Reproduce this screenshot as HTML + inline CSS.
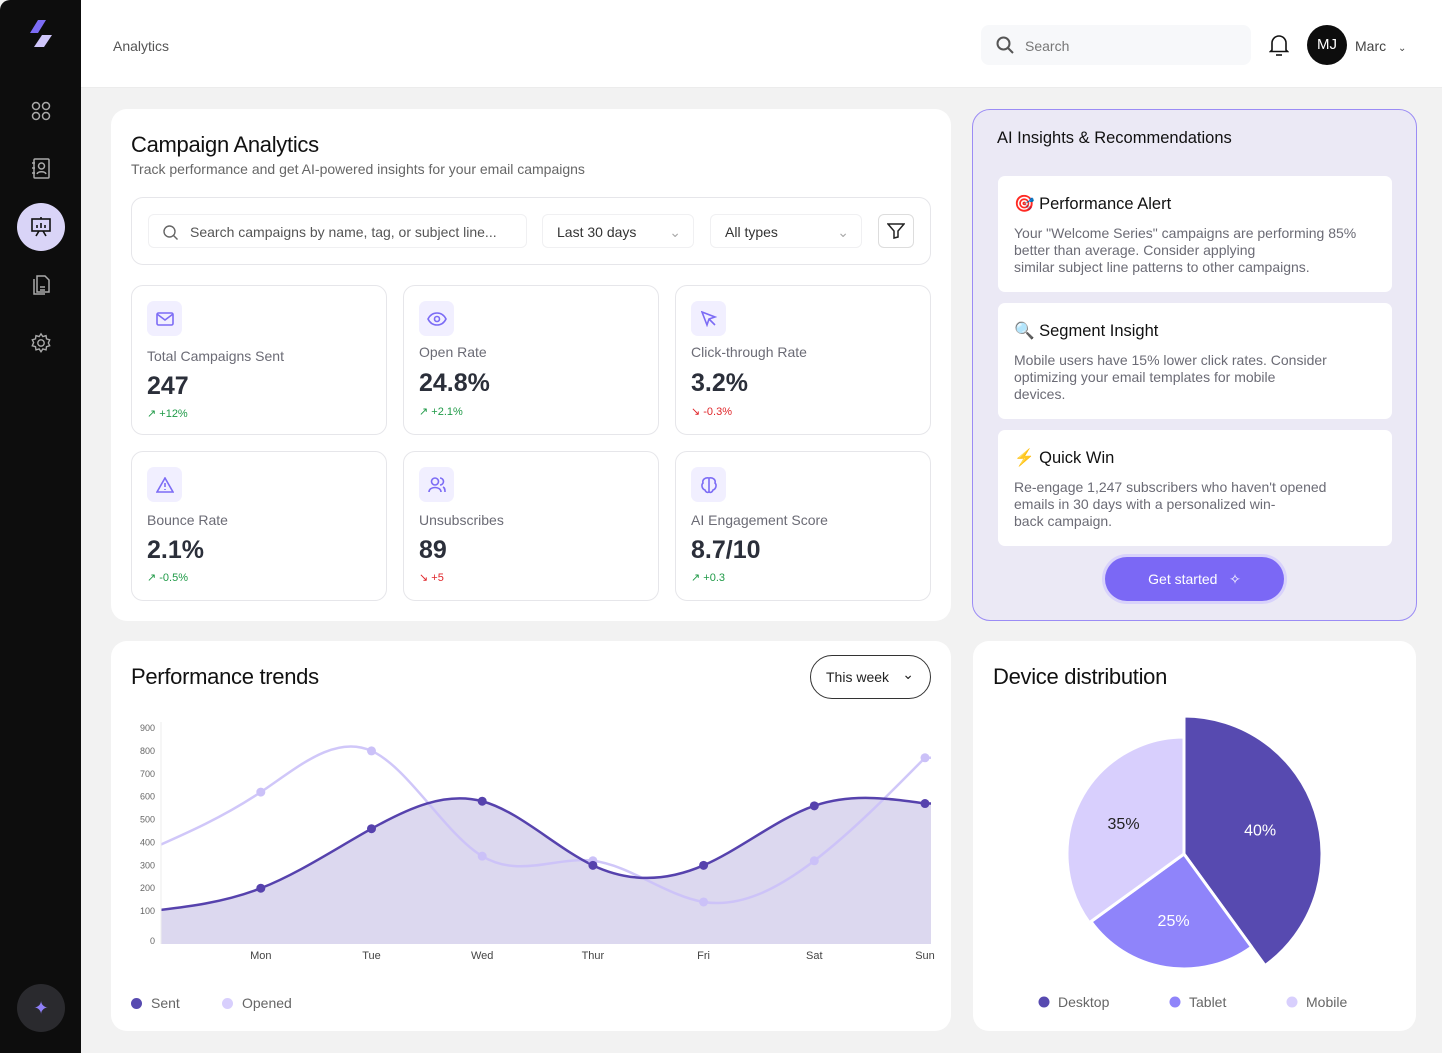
<!DOCTYPE html>
<html><head><meta charset="utf-8">
<style>
*{box-sizing:border-box;margin:0;padding:0}
body{width:1442px;height:1053px;background:#f2f2f2;font-family:"Liberation Sans",sans-serif;position:relative;overflow:hidden;color:#111}
.abs{position:absolute}
.card{position:absolute;background:#fff;border-radius:16px}
.stat{position:absolute;border:1px solid #e6e6ea;border-radius:12px;background:#fff;width:256px;height:150px}
.stat .ic{position:absolute;left:15px;top:15px;width:35px;height:35px;border-radius:7px;background:#f1efff;display:flex;align-items:center;justify-content:center}
.stat .lb{position:absolute;left:15px;font-size:14px;color:#6b6b75}
.stat .val{position:absolute;left:15px;font-size:25px;font-weight:bold;color:#2b2f3a}
.stat .ch{position:absolute;left:15px;font-size:11px}
.up{color:#1f9a47}.dn{color:#e0262a}
.ins{position:absolute;left:25px;width:394px;background:#fff;border-radius:7px;height:116px}
.ins h4{position:absolute;left:16px;top:19px;font-size:16.5px;font-weight:normal;color:#111}
.ins p{position:absolute;left:16px;top:49px;font-size:14px;line-height:17px;color:#6b6b75;white-space:nowrap}
.sel{position:absolute;top:16px;height:34px;border:1px solid #f0f0f2;border-radius:6px;font-size:14px;color:#333;padding:9px 14px}
</style></head><body>
<div class="abs" style="left:0;top:0;width:81px;height:1053px;background:#0d0d0d;border-radius:10px 0 0 0">
  <svg class="abs" style="left:30px;top:20px" width="24" height="28" viewBox="0 0 24 28"><polygon points="8,0 16,0 8,13 0,13" fill="#7c6cf5"/><polygon points="12,15 22,15 14,27 4,27" fill="#cfc6fb"/></svg>
  <svg class="abs" style="left:31px;top:101px" width="20" height="20" viewBox="0 0 20 20" fill="none" stroke="#aaa" stroke-width="1.5"><circle cx="5" cy="5" r="3.5"/><circle cx="15" cy="5" r="3.5"/><circle cx="5" cy="15" r="3.5"/><circle cx="15" cy="15" r="3.5"/></svg>
  <svg class="abs" style="left:31px;top:158px" width="20" height="22" viewBox="0 0 20 22" fill="none" stroke="#aaa" stroke-width="1.5"><rect x="3" y="1" width="15" height="19" rx="1"/><circle cx="10.5" cy="8" r="3"/><path d="M6 16c1-3 8-3 9 0M1 5h3M1 10h3M1 15h3"/></svg>
  <div class="abs" style="left:17px;top:203px;width:48px;height:48px;border-radius:50%;background:#d9d4f7"><svg class="abs" style="left:13px;top:13px" width="22" height="22" viewBox="0 0 22 22" fill="none" stroke="#111" stroke-width="1.6"><rect x="2" y="3" width="18" height="12"/><path d="M7 12V9M11 12V7M15 12V9M11 1v2M6 20l3-5M16 20l-3-5"/></svg></div>
  <svg class="abs" style="left:31px;top:274px" width="20" height="22" viewBox="0 0 20 22" fill="none" stroke="#aaa" stroke-width="1.5"><path d="M6 2h8l4 4v12H6z"/><path d="M3 5v15h11M9 13h5M9 16h5"/></svg>
  <svg class="abs" style="left:30px;top:332px" width="22" height="22" viewBox="0 0 24 24" fill="none" stroke="#aaa" stroke-width="1.5"><circle cx="12" cy="12" r="3.5"/><path d="M12 2l2 3 3.5-1 .5 3.5 3.5 1-1.5 3.5 1.5 3-3.5 1-.5 3.5-3.5-1-2 3-2-3-3.5 1-.5-3.5-3.5-1 1.5-3.5L2.5 8.5 6 7.5 6.5 4 10 5z"/></svg>
  <div class="abs" style="left:17px;top:984px;width:48px;height:48px;border-radius:50%;background:#2a2a2e;color:#8f7ff7;font-size:18px;text-align:center;line-height:48px">✦</div>
</div>
<div class="abs" style="left:81px;top:0;width:1361px;height:88px;background:#fff;border-bottom:1px solid #ececec">
  <div class="abs" style="left:32px;top:38px;font-size:14px;color:#555">Analytics</div>
  <div class="abs" style="left:900px;top:25px;width:270px;height:40px;background:#f7f8fa;border-radius:8px">
    <svg class="abs" style="left:15px;top:11px" width="18" height="18" viewBox="0 0 18 18" fill="none" stroke="#555" stroke-width="2"><circle cx="7.5" cy="7.5" r="6"/><path d="M12 12l5 5"/></svg>
    <span class="abs" style="left:44px;top:13px;font-size:14px;color:#777">Search</span></div>
  <svg class="abs" style="left:1188px;top:34px" width="20" height="22" viewBox="0 0 20 22" fill="none" stroke="#111" stroke-width="1.6"><path d="M3 16V9a7 7 0 0114 0v7l1.5 1.5h-17z"/><path d="M7 21h6"/></svg>
  <div class="abs" style="left:1226px;top:25px;width:40px;height:40px;border-radius:50%;background:#0d0d0d;color:#fff;font-size:15px;text-align:center;line-height:40px">MJ</div>
  <div class="abs" style="left:1274px;top:38px;font-size:14px;color:#444">Marc <span style="font-size:10px;margin-left:8px">⌄</span></div>
</div>

<div class="card" style="left:111px;top:109px;width:840px;height:512px">
  <div class="abs" style="left:20px;top:23px;font-size:22px;color:#111;letter-spacing:-0.3px">Campaign Analytics</div>
  <div class="abs" style="left:20px;top:52px;font-size:14px;color:#666">Track performance and get AI-powered insights for your email campaigns</div>
  <div class="abs" style="left:20px;top:88px;width:800px;height:68px;border:1px solid #e6e6ea;border-radius:12px">
    <div class="sel" style="left:16px;width:379px;color:#555"><svg style="vertical-align:-3px;margin-right:12px" width="15" height="15" viewBox="0 0 15 15" fill="none" stroke="#666" stroke-width="1.4"><circle cx="6.5" cy="6.5" r="5.5"/><path d="M10.5 10.5l4 4"/></svg>Search campaigns by name, tag, or subject line...</div>
    <div class="sel" style="left:410px;width:152px">Last 30 days<span style="position:absolute;right:12px;color:#aaa">⌄</span></div>
    <div class="sel" style="left:578px;width:152px">All types<span style="position:absolute;right:12px;color:#aaa">⌄</span></div>
    <div class="sel" style="left:746px;width:36px;border-color:#ddd;padding:8px"><svg width="18" height="16" viewBox="0 0 18 16" fill="none" stroke="#222" stroke-width="1.5"><path d="M1 1h16l-6 7v6l-4 1V8z"/></svg></div>
  </div>
</div>

<div class="stat" style="left:131px;top:285px"><div class="ic"><svg width="18" height="14" viewBox="0 0 18 14" fill="none" stroke="#7c6cf5" stroke-width="1.6"><rect x="1" y="1" width="16" height="12" rx="1.5"/><path d="M1 2l8 6 8-6"/></svg></div><div class="lb" style="top:62px">Total Campaigns Sent</div><div class="val" style="top:86px">247</div><div class="ch up" style="top:121px">↗ +12%</div></div>
<div class="stat" style="left:403px;top:285px"><div class="ic"><svg width="20" height="14" viewBox="0 0 20 14" fill="none" stroke="#7c6cf5" stroke-width="1.6"><path d="M1 7c4-8 14-8 18 0-4 8-14 8-18 0z"/><circle cx="10" cy="7" r="2.5"/></svg></div><div class="lb" style="top:58px">Open Rate</div><div class="val" style="top:83px">24.8%</div><div class="ch up" style="top:119px">↗ +2.1%</div></div>
<div class="stat" style="left:675px;top:285px"><div class="ic"><svg width="16" height="16" viewBox="0 0 16 16" fill="none" stroke="#7c6cf5" stroke-width="1.6"><path d="M1 1l13 5-6 2-2 6z M8 8l6 6"/></svg></div><div class="lb" style="top:58px">Click-through Rate</div><div class="val" style="top:83px">3.2%</div><div class="ch dn" style="top:119px">↘ -0.3%</div></div>
<div class="stat" style="left:131px;top:451px"><div class="ic"><svg width="18" height="16" viewBox="0 0 18 16" fill="none" stroke="#7c6cf5" stroke-width="1.6"><path d="M9 1l8 14H1z M9 6v4M9 12v1"/></svg></div><div class="lb" style="top:60px">Bounce Rate</div><div class="val" style="top:84px">2.1%</div><div class="ch up" style="top:119px">↗ -0.5%</div></div>
<div class="stat" style="left:403px;top:451px"><div class="ic"><svg width="18" height="16" viewBox="0 0 18 16" fill="none" stroke="#7c6cf5" stroke-width="1.6"><circle cx="7" cy="4.5" r="3.5"/><path d="M1 15c0-6 12-6 12 0M12 1a3.5 3.5 0 010 7M15 10c2 1 2 3 2 5"/></svg></div><div class="lb" style="top:60px">Unsubscribes</div><div class="val" style="top:84px">89</div><div class="ch dn" style="top:119px">↘ +5</div></div>
<div class="stat" style="left:675px;top:451px"><div class="ic"><svg width="18" height="18" viewBox="0 0 18 18" fill="none" stroke="#7c6cf5" stroke-width="1.6"><path d="M9 2c-4-1-7 2-6 5-2 2-1 6 2 7 1 3 4 3 4 1zM9 2c4-1 7 2 6 5 2 2 1 6-2 7-1 3-4 3-4 1zM9 2v14"/></svg></div><div class="lb" style="top:60px">AI Engagement Score</div><div class="val" style="top:84px">8.7/10</div><div class="ch up" style="top:119px">↗ +0.3</div></div>

<div class="abs" style="left:972px;top:109px;width:445px;height:512px;background:#ebe9f5;border:1px solid #9b8cf5;border-radius:18px">
  <div class="abs" style="left:24px;top:19px;font-size:16.5px;color:#111">AI Insights &amp; Recommendations</div>
  <div class="ins" style="top:66px"><h4>🎯 Performance Alert</h4><p>Your "Welcome Series" campaigns are performing 85%<br>better than average. Consider applying<br>similar subject line patterns to other campaigns.</p></div>
  <div class="ins" style="top:193px"><h4>🔍 Segment Insight</h4><p>Mobile users have 15% lower click rates. Consider<br>optimizing your email templates for mobile<br>devices.</p></div>
  <div class="ins" style="top:320px"><h4><span style="color:#f08a5d">⚡</span> Quick Win</h4><p>Re-engage 1,247 subscribers who haven't opened<br>emails in 30 days with a personalized win-<br>back campaign.</p></div>
  <div class="abs" style="left:132px;top:447px;width:179px;height:44px;border-radius:22px;background:#7b68f5;box-shadow:0 0 0 3px #d8d2fb;color:#fff;font-size:14px;text-align:center;line-height:44px">Get started&nbsp;&nbsp;&nbsp;✧</div>
</div>

<div class="card" style="left:111px;top:641px;width:840px;height:390px">
  <div class="abs" style="left:20px;top:23px;font-size:22px;letter-spacing:-0.3px">Performance trends</div>
  <div class="abs" style="left:699px;top:14px;width:121px;height:44px;border:1px solid #333;border-radius:22px;font-size:14px;padding:13px 15px;color:#222">This week <span style="position:absolute;right:16px;top:10px">⌄</span></div>
  <div class="abs" style="left:20px;top:354px;font-size:14px;color:#666"><span style="display:inline-block;width:11px;height:11px;border-radius:50%;background:#574ab0;margin-right:9px;vertical-align:-1px"></span>Sent</div>
  <div class="abs" style="left:111px;top:354px;font-size:14px;color:#666"><span style="display:inline-block;width:11px;height:11px;border-radius:50%;background:#d8cffd;margin-right:9px;vertical-align:-1px"></span>Opened</div>
</div>
<svg id="trend" class="abs" style="left:0;top:0" width="1442" height="1053"><defs><clipPath id="cl"><rect x="161" y="700" width="770" height="250"/></clipPath></defs><g id="plot" clip-path="url(#cl)"></g></svg>

<div class="card" style="left:973px;top:641px;width:443px;height:390px">
  <div class="abs" style="left:20px;top:23px;font-size:22px;letter-spacing:-0.3px">Device distribution</div>
</div>
<svg id="pie" class="abs" style="left:0;top:0" width="1442" height="1053"></svg>

<script>
const days = ["", "Mon", "Tue", "Wed", "Thur", "Fri", "Sat", "Sun"];
const sentValues = [100, 200, 460, 580, 300, 300, 560, 570];
const openedValues = [370, 620, 800, 340, 320, 140, 320, 770];
const yTicks = [0, 100, 200, 300, 400, 500, 600, 700, 800, 900];
const deviceLabels = ["Desktop", "Tablet", "Mobile"];
const deviceShares = [40, 25, 35];

const NS = "http://www.w3.org/2000/svg";
function mk(p, tag, attrs){const e=document.createElementNS(NS,tag);for(const k in attrs)e.setAttribute(k,attrs[k]);p.appendChild(e);return e;}
const svg = document.getElementById('trend');
const plot = document.getElementById('plot');
const step=110.7, xStart=925-7*110.7, yBase=934, yTop=728;
const xs = i => xStart + i*step;
const ys = v => yBase - v*(yBase-yTop)/900;
function smooth(vals){
  const n=vals.length, y=vals.map(ys), h=step;
  // natural cubic spline second derivatives
  const M=new Array(n).fill(0), c=new Array(n).fill(0), d=new Array(n).fill(0);
  for(let i=1;i<n-1;i++){
    const r=6*(y[i+1]-2*y[i]+y[i-1])/(h*h);
    const denom=4-c[i-1];
    c[i]=1/denom; d[i]=(r-d[i-1])/denom;
  }
  for(let i=n-2;i>0;i--) M[i]=d[i]-c[i]*M[i+1];
  let p=`M${xs(0)},${y[0]}`;
  for(let i=0;i<n-1;i++){
    const s=(y[i+1]-y[i])/h;
    const m0=s-h*(2*M[i]+M[i+1])/6, m1=s+h*(M[i]+2*M[i+1])/6;
    p+=` C${xs(i)+h/3},${y[i]+m0*h/3} ${xs(i+1)-h/3},${y[i+1]-m1*h/3} ${xs(i+1)},${y[i+1]}`;
  }
  return p;
}
yTicks.forEach(v=>{
  const t=mk(svg,'text',{x:155,y:ys(v)+(v===0?10:3),'text-anchor':'end','font-size':9,fill:'#666','font-family':'Liberation Sans'});
  
  
  t.textContent=v;
});
mk(svg,'line',{x1:161,y1:722,x2:161,y2:944,stroke:'#eee'});
days.forEach((d,i)=>{ if(!d)return;
  const t=mk(svg,'text',{x:xs(i),y:959,'text-anchor':'middle','font-size':11,fill:'#444','font-family':'Liberation Sans'});
  
  
  t.textContent=d;
});
const sd=smooth(sentValues);
const area=mk(plot,'path',{d:sd+` L${xs(7)+10},${ys(sentValues[7])} L${xs(7)+10},944 L${xs(0)},944 Z`,fill:'#dcd8ef'});


const ol=mk(plot,'path',{d:smooth(openedValues)+` l10,0`,fill:'none',stroke:'#cbc1f8','stroke-width':2.5,opacity:0.9});


const sl=mk(plot,'path',{d:sd+` l10,0`,fill:'none',stroke:'#5642ad','stroke-width':2.5});


openedValues.forEach((v,i)=>{ if(i===0)return;
  const c=mk(plot,'circle',{cx:xs(i),cy:ys(v),r:4.5,fill:'#cbc1f8'});
  
  
});
sentValues.forEach((v,i)=>{ if(i===0)return;
  const c=mk(plot,'circle',{cx:xs(i),cy:ys(v),r:4.5,fill:'#5642ad'});
  
  
});

const pie=document.getElementById('pie');
const cx=1184, cy=854;
const colors=['#574ab0','#8f84fa','#d8cffd'];
const radii=[138,115,117];
const labelColors=['#fff','#fff','#222'];
const total=deviceShares.reduce((a,b)=>a+b,0);
let ang=0;
deviceShares.forEach((s,i)=>{
  const a0=ang, a1=ang+s/total*Math.PI*2; ang=a1;
  const r=radii[i];
  const px=a=>cx+r*Math.sin(a), py=a=>cy-r*Math.cos(a);
  const large=(a1-a0)>Math.PI?1:0;
  const p=mk(pie,'path',{d:`M${cx},${cy} L${px(a0)},${py(a0)} A${r},${r} 0 ${large} 1 ${px(a1)},${py(a1)} Z`,fill:colors[i],stroke:'#fff','stroke-width':3,'stroke-linejoin':'round'});
  
  
  const m=(a0+a1)/2, lr=r*0.58;
  const t=mk(pie,'text',{x:cx+lr*Math.sin(m),y:cy-lr*Math.cos(m)+6,'text-anchor':'middle','font-size':16,fill:labelColors[i],'font-family':'Liberation Sans'});
  
  
  t.textContent=s+'%';
  const lx=[1038,1169,1286][i];
  const c=mk(pie,'circle',{cx:lx+6,cy:1002,r:5.5,fill:colors[i]});
  
  
  const lt=mk(pie,'text',{x:lx+20,y:1007,'font-size':14,fill:'#666','font-family':'Liberation Sans'});
  
  
  lt.textContent=deviceLabels[i];
});
</script>
</body></html>
